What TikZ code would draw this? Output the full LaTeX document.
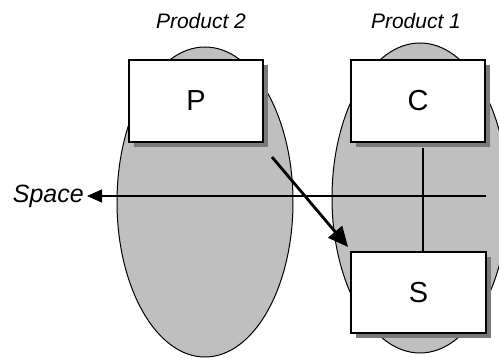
\documentclass[tikz,border=0pt]{standalone}
\usepackage{fontspec}
\setmainfont{Liberation Sans}
\usetikzlibrary{arrows.meta,shadows}
\begin{document}
\begin{tikzpicture}[x=1pt,y=-1pt,
  region/.style={draw=black,line width=1pt,fill=black!25},
  block/.style={draw=black,line width=1.6pt,fill=white,minimum width=134pt,minimum height=82pt,inner sep=0pt,
    font=\fontsize{29}{32}\selectfont,
    drop shadow={shadow xshift=5pt,shadow yshift=-5pt,opacity=1,fill=black!52,draw=none}},
  caption/.style={font=\itshape\fontsize{21}{24}\selectfont}]
\useasboundingbox (0,0) rectangle (499,358);
% product regions
\begin{scope}
\clip (0,0) rectangle (499,358);
\draw[region] (205,202) ellipse [x radius=88, y radius=155];
\draw[region] (420,198) ellipse [x radius=88, y radius=155];
\end{scope}
% captions
\node[caption] (p2) at (201,21) {Product 2};
\node[caption] (p1) at (416,21) {Product 1};
% blocks with their drop shadows
\node[block] (P) at (196,101) {P};
\node[block] (C) at (418,101) {C};
\node[block,minimum width=135pt,minimum height=81pt] (S) at (418.5,292.5) {S};
% space axis
\coordinate (axisR) at (486,196);
\node[anchor=east,inner sep=0pt,font=\itshape\fontsize{25}{28}\selectfont] (space) at (84,196) {Space};
\draw[line width=1.2pt,-{Triangle[length=15pt,width=13pt]}] (axisR) -- (space.east -| 87,0);
% link between C and S
\draw[line width=2.6pt] (423,148) -- (S.north -| 423,0);
% arrow from P towards S
\coordinate (a0) at (272,157);
\coordinate (a1) at (348,247);
\draw[line width=2.8pt,-{Triangle[length=20pt,width=18pt]}] (a0) -- (a1);
\end{tikzpicture}
\end{document}
